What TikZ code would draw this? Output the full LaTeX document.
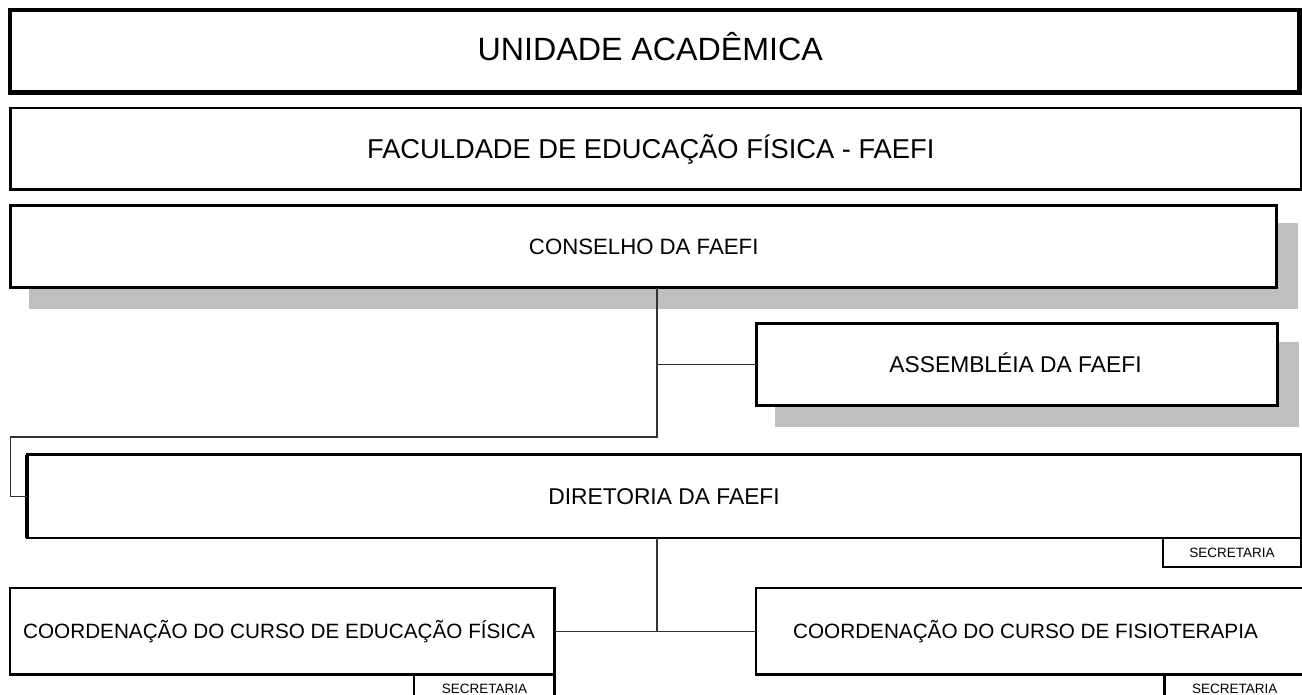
\documentclass[tikz,border=0pt]{standalone}
\usepackage{fontspec}
\setmainfont{Liberation Sans}
\usetikzlibrary{shadows}
\definecolor{shadowgray}{HTML}{BFBFBF}
\begin{document}
\begin{tikzpicture}[x=1pt,y=-1pt,
  orgbox/.style={draw=black, fill=white, inner sep=0pt, outer sep=0pt, anchor=north west},
  shad/.style={drop shadow={shadow xshift=19.5pt, shadow yshift=-19.5pt, fill=shadowgray, draw=shadowgray, opacity=1}},
  conn/.style={draw=black!80, line width=1.2pt},
  tA/.style={font=\fontsize{32.2pt}{38pt}\selectfont, text height=23.06pt, text depth=4pt},
  tB/.style={font=\fontsize{27.3pt}{32pt}\selectfont, text height=19.55pt, text depth=0pt},
  tC/.style={font=\fontsize{22.2pt}{26pt}\selectfont, text height=15.9pt, text depth=0pt},
  tD/.style={font=\fontsize{22.8pt}{26pt}\selectfont, text height=16.32pt, text depth=0pt},
  tE/.style={font=\fontsize{20.7pt}{24pt}\selectfont, text height=14.82pt, text depth=0pt},
  tS/.style={font=\fontsize{13.5pt}{16pt}\selectfont, text height=9.67pt, text depth=0pt}
]
\useasboundingbox (0,0) rectangle (1302,695);
\clip (0,0) rectangle (1302,695);

\node[orgbox, tA, line width=4.5pt, minimum width=1289.5pt, minimum height=82.3pt] (ua) at (10,10) {UNIDADE ACADÊMICA\hspace*{9pt}};
\node[orgbox, tB, line width=2.5pt, minimum width=1290.5pt, minimum height=81.5pt] (fac) at (10.5,108) {FACULDADE DE EDUCAÇÃO FÍSICA - FAEFI\hspace*{10pt}};
\node[orgbox, tC, shad, line width=3pt, minimum width=1266pt, minimum height=82.7pt] (cons) at (10.7,205.3) {CONSELHO DA FAEFI};
\node[orgbox, tD, shad, line width=3pt, minimum width=521pt, minimum height=82pt] (ass) at (756.5,323.5) {ASSEMBLÉIA DA FAEFI\hspace*{3pt}};
\node[orgbox, tD, line width=2.7pt, minimum width=1274pt, minimum height=83.3pt] (dir) at (27,454.7) {DIRETORIA DA FAEFI};
\node[orgbox, tS, line width=2.7pt, minimum width=138pt, minimum height=29pt] (secdir) at (1163,538) {SECRETARIA};
\node[orgbox, tE, line width=2.3pt, minimum width=544.8pt, minimum height=86.2pt] (coef) at (9.7,588.3) {COORDENAÇÃO DO CURSO DE EDUCAÇÃO FÍSICA\hspace*{6pt}};
\node[orgbox, tS, line width=2.3pt, minimum width=140.2pt, minimum height=29pt] (secef) at (414.3,674.5) {SECRETARIA};
\node[orgbox, tE, line width=2.3pt, minimum width=549pt, minimum height=86.2pt] (cofi) at (756,588.3) {COORDENAÇÃO DO CURSO DE FISIOTERAPIA\hspace*{10pt}};
\node[orgbox, tS, line width=2.3pt, minimum width=140.5pt, minimum height=29pt] (secfi) at (1164.5,674.5) {SECRETARIA};

\draw[line width=4pt] (dir.north west) -- (dir.south west);

\coordinate (j1) at (657,437);
\coordinate (j2) at (10.5,437);
\draw[conn] (cons.south -| j1) -- (j1) -- (j2) |- (dir.west);
\draw[conn] (ass.west -| j1) -- (ass.west);
\draw[conn] (dir.south -| j1) -- (coef.east -| j1);
\draw[conn] (coef.east) -- (cofi.west);
\end{tikzpicture}
\end{document}
